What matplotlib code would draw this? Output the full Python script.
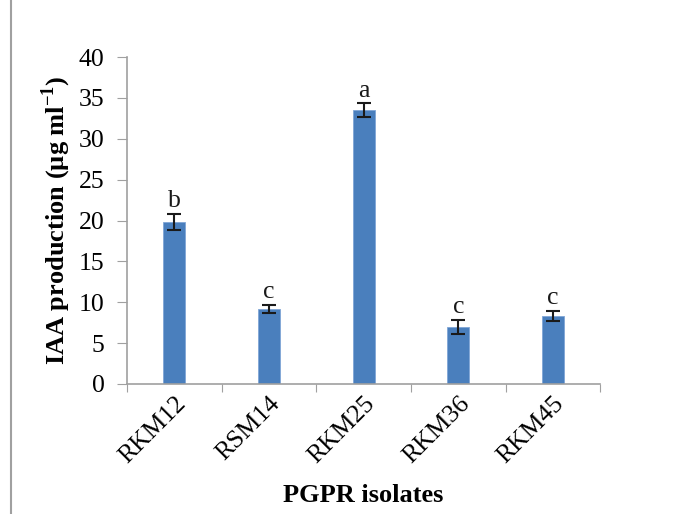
import matplotlib
matplotlib.use("Agg")
import matplotlib.pyplot as plt
from matplotlib.patches import Rectangle

categories = ["RKM12", "RSM14", "RKM25", "RKM36", "RKM45"]
values = [19.8, 9.2, 33.5, 7.0, 8.3]
errors = [1.0, 0.5, 0.85, 0.85, 0.65]
letters = ["b", "c", "a", "c", "c"]
yticks = [0, 5, 10, 15, 20, 25, 30, 35, 40]

plt.rcParams['font.family'] = ['Liberation Serif', 'DejaVu Serif']
plt.rcParams['mathtext.fontset'] = 'custom'
plt.rcParams['mathtext.rm'] = 'Liberation Serif'
plt.rcParams['mathtext.bf'] = 'Liberation Serif:bold'

fig = plt.figure(figsize=(6.9, 5.14), dpi=100)
ax = fig.add_axes([0.184, 0.253, 0.686, 0.636])

x = list(range(len(categories)))
ax.bar(x, values, width=0.23, color="#4a7fbd", edgecolor="#7fa6d6", linewidth=0.6, zorder=2)
ax.errorbar(x, values, yerr=errors, fmt="none", ecolor="#1a1a1a", elinewidth=1.5,
            capsize=5, capthick=1.5, zorder=3)
for xi, v, e, l in zip(x, values, errors, letters):
    ax.text(xi, v + e + 0.2, l, ha="center", va="bottom", fontsize=18.5, color="#1a1a1a")

ax.set_xlim(-0.5, len(categories) - 0.5)
ax.set_ylim(0, 40)
ax.set_yticks(yticks)
ax.set_yticklabels([str(t) for t in yticks], fontsize=18.5)
ax.set_xticks([i - 0.5 for i in range(len(categories) + 1)])
ax.set_xticklabels([])
ax.set_xticks(x, minor=True)
ax.set_xticklabels(categories, minor=True, rotation=45, ha="right", rotation_mode="anchor", fontsize=18.5)
ax.tick_params(axis="x", which="minor", length=0, pad=6)
ax.tick_params(axis="x", which="major", length=6, color="#a0a0a0", direction="out")
ax.tick_params(axis="y", length=7, color="#a0a0a0", direction="out", pad=9)

for s in ["top", "right"]:
    ax.spines[s].set_visible(False)
for s in ["left", "bottom"]:
    ax.spines[s].set_color("#a0a0a0")
    ax.spines[s].set_linewidth(1.2)

ax.set_ylabel("IAA production (µg ml$^{\\mathregular{-1}}$)", fontsize=19, fontweight="bold", labelpad=4)
ax.set_xlabel("PGPR isolates", fontsize=19, fontweight="bold", labelpad=12)

fig.patches.append(Rectangle((0.016, -0.01), 0.99, 1.02, transform=fig.transFigure,
                             fill=False, edgecolor="#a0a0a0", linewidth=1.5))

fig.savefig("out.png", dpi=100)
